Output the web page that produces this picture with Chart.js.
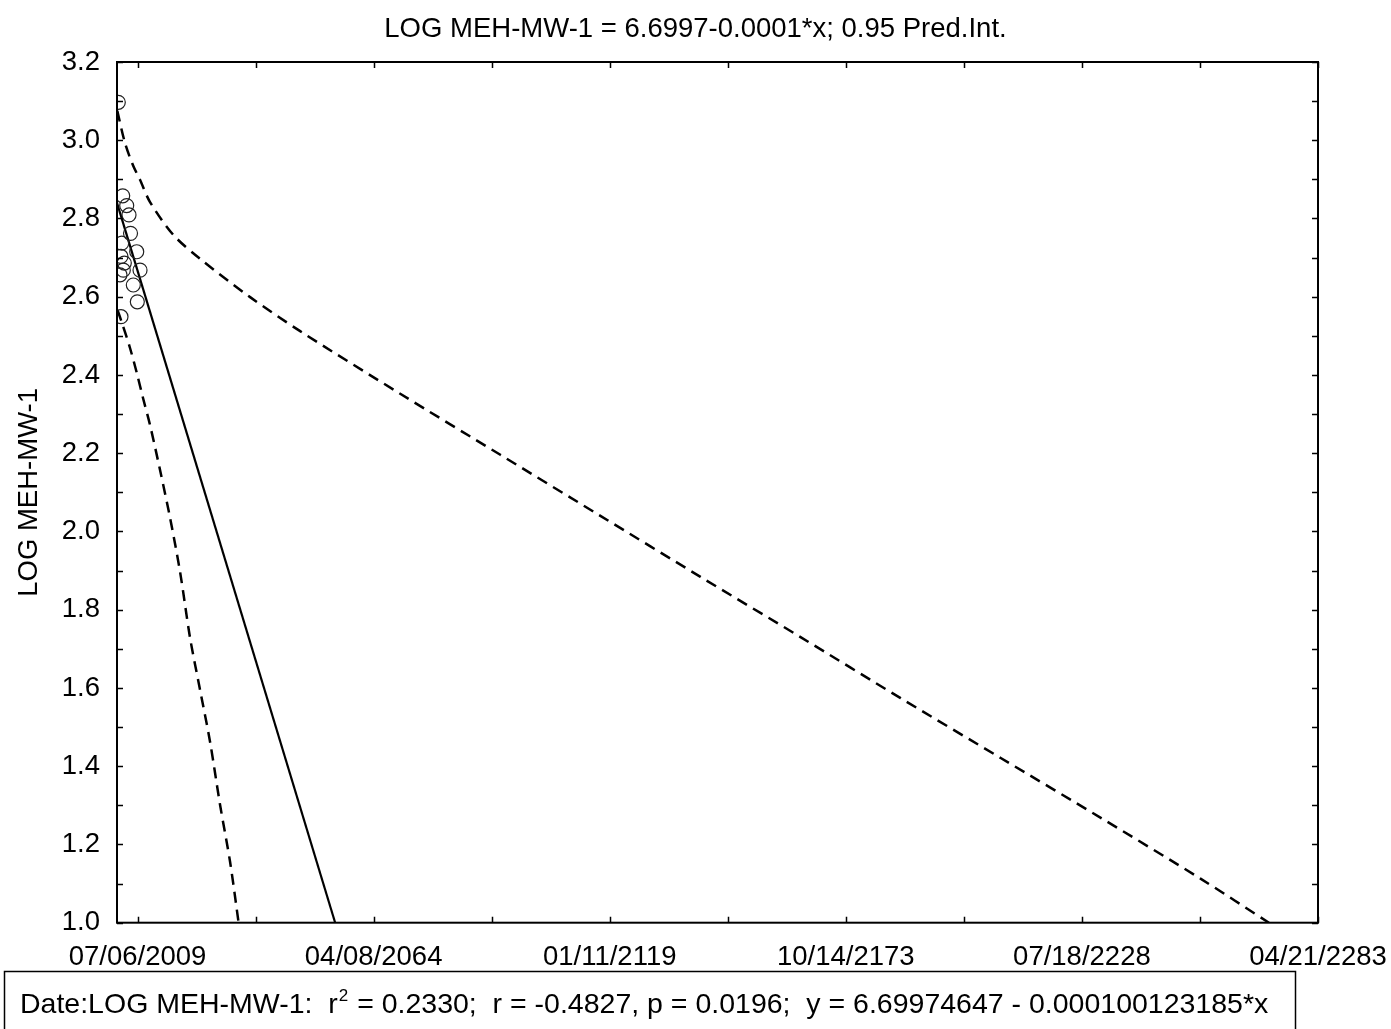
<!DOCTYPE html>
<html>
<head>
<meta charset="utf-8">
<script src="https://cdn.jsdelivr.net/npm/chart.js@4.4.0/dist/chart.umd.min.js"></script>
<style>
  html, body { margin: 0; padding: 0; background: #fff; }
  #wrap { position: relative; width: 1391px; height: 1029px; }
</style>
</head>
<body>
<div id="wrap"><canvas id="regChart"></canvas></div>
<script>
// Axis ticks (x values are date serials, day 40000 = 07/06/2009)
const xTickValues = [40000, 60000, 80000, 100000, 120000, 140000];
const xTickLabels = ['07/06/2009', '04/08/2064', '01/11/2119', '10/14/2173', '07/18/2228', '04/21/2283'];
const yTickValues = [1.0, 1.2, 1.4, 1.6, 1.8, 2.0, 2.2, 2.4, 2.6, 2.8, 3.0, 3.2];

// Observations
const obsDate = [38372, 38745, 39084, 39279, 39407, 39932, 40212, 38796, 39644, 39983, 38601, 38660, 38601, 38881, 38516];
const obsLog = [3.097, 2.858, 2.833, 2.809, 2.762, 2.715, 2.668, 2.668, 2.630, 2.587, 2.549, 2.737, 2.703, 2.686, 2.656];

// Fitted line
const fitDate = [38262, 56744];
const fitLog = [2.84, 1.0];

// 0.95 prediction interval
const upperDate = [38287, 38940, 39644, 40212, 41060, 43035, 45297, 49538, 53777, 62255, 70733, 79211, 87689, 96167, 104645, 113123, 121601, 130079, 135844];
const upperLog = [3.075, 2.993, 2.934, 2.899, 2.842, 2.758, 2.697, 2.599, 2.512, 2.352, 2.196, 2.040, 1.884, 1.730, 1.574, 1.421, 1.268, 1.112, 1.000];
const lowerDate = [38304, 38686, 39364, 39958, 40466, 41060, 41908, 42756, 43604, 44451, 45299, 46147, 46995, 47843, 48563];
const lowerLog = [2.566, 2.533, 2.469, 2.403, 2.341, 2.272, 2.157, 2.035, 1.897, 1.728, 1.595, 1.462, 1.301, 1.155, 1.000];

const titleText = 'LOG MEH-MW-1 = 6.6997-0.0001*x; 0.95 Pred.Int.';
const yTitle = 'LOG MEH-MW-1';

const FONT = "'Liberation Sans', Arial, sans-serif";
Chart.defaults.font.family = FONT;
Chart.defaults.font.size = 27.5;
Chart.defaults.color = '#000';

const pts = (xs, ys) => xs.map((x, i) => ({ x, y: ys[i] }));

// frame, inward ticks, title and the stats box
const decorations = {
  id: 'decorations',
  afterDraw(chart) {
    const { ctx, chartArea: a } = chart;
    const xs = chart.scales.x;
    const ys = chart.scales.y;
    ctx.save();
    ctx.strokeStyle = '#000';
    ctx.lineWidth = 2;
    ctx.strokeRect(a.left, a.top, a.right - a.left, a.bottom - a.top);

    ctx.lineWidth = 1.5;
    ctx.beginPath();
    for (let v = 1.0; v <= 3.2001; v += 0.1) {
      const py = Math.round(ys.getPixelForValue(v)) + 0.5;
      ctx.moveTo(a.left, py); ctx.lineTo(a.left + 6, py);
      ctx.moveTo(a.right, py); ctx.lineTo(a.right - 6, py);
    }
    for (let v = 40000; v <= 140000; v += 10000) {
      const px = Math.round(xs.getPixelForValue(v)) + 0.5;
      ctx.moveTo(px, a.bottom); ctx.lineTo(px, a.bottom - 6);
      ctx.moveTo(px, a.top); ctx.lineTo(px, a.top + 6);
    }
    ctx.stroke();

    // title
    ctx.fillStyle = '#000';
    ctx.font = '27.5px ' + FONT;
    ctx.textAlign = 'center';
    ctx.textBaseline = 'middle';
    ctx.fillText(titleText, chart.width / 2, 29);

    // stats box
    ctx.lineWidth = 1.5;
    ctx.strokeRect(4.5, 971.5, 1291, 65);
    ctx.textAlign = 'left';
    ctx.textBaseline = 'alphabetic';
    const base = 1013;
    let x = 20;
    ctx.font = '28.5px ' + FONT;
    const p1 = 'Date:LOG MEH-MW-1:  r';
    ctx.fillText(p1, x, base);
    x += ctx.measureText(p1).width;
    ctx.font = '17px ' + FONT;
    ctx.fillText('2', x + 1, base - 12);
    x += ctx.measureText('2').width + 2;
    ctx.font = '28.5px ' + FONT;
    ctx.fillText(' = 0.2330;  r = -0.4827, p = 0.0196;  y = 6.69974647 - 0.000100123185*x', x, base);
    ctx.restore();
  },
};

new Chart(document.getElementById('regChart'), {
  type: 'scatter',
  data: {
    datasets: [
      {
        label: 'obs',
        data: pts(obsDate, obsLog),
        showLine: false,
        pointStyle: 'circle',
        pointRadius: 7,
        pointBorderWidth: 1.2,
        pointBorderColor: '#222',
        pointBackgroundColor: 'rgba(0,0,0,0)',
      },
      {
        label: 'fit',
        data: pts(fitDate, fitLog),
        showLine: true,
        pointRadius: 0,
        borderColor: '#000',
        borderWidth: 2.2,
      },
      {
        label: 'upper',
        data: pts(upperDate, upperLog),
        showLine: true,
        pointRadius: 0,
        borderColor: '#000',
        borderWidth: 2.5,
        borderDash: [11, 7],
        tension: 0.3,
      },
      {
        label: 'lower',
        data: pts(lowerDate, lowerLog),
        showLine: true,
        pointRadius: 0,
        borderColor: '#000',
        borderWidth: 2.5,
        borderDash: [11, 7],
        tension: 0.3,
      },
    ],
  },
  options: {
    responsive: true,
    maintainAspectRatio: false,
    animation: false,
    devicePixelRatio: 1,
    layout: { padding: { top: 62, right: 73, bottom: 0, left: 0 } },
    plugins: {
      legend: { display: false },
      tooltip: { enabled: false },
      title: { display: false },
    },
    scales: {
      x: {
        type: 'linear',
        min: 38262,
        max: 140000,
        grid: { display: false, drawTicks: false },
        border: { display: false },
        afterBuildTicks: (axis) => { axis.ticks = xTickValues.map((v) => ({ value: v })); },
        afterFit: (axis) => {
          axis.height = 106.3;
          axis.paddingLeft = 0;
          axis.paddingRight = 0;
        },
        ticks: {
          autoSkip: false,
          maxRotation: 0,
          minRotation: 0,
          padding: 18,
          callback: (value, index) => xTickLabels[index],
        },
      },
      y: {
        type: 'linear',
        min: 1.0,
        max: 3.2,
        grid: { display: false, drawTicks: false },
        border: { display: false },
        afterBuildTicks: (axis) => { axis.ticks = yTickValues.map((v) => ({ value: v })); },
        afterFit: (axis) => {
          axis.width = 117;
          axis.paddingTop = 0;
          axis.paddingBottom = 0;
        },
        ticks: {
          padding: 17,
          callback: (value) => Number(value).toFixed(1),
        },
        title: {
          display: true,
          text: yTitle,
          padding: { top: 13, bottom: 0 },
        },
      },
    },
  },
  plugins: [decorations],
});
</script>
</body>
</html>
